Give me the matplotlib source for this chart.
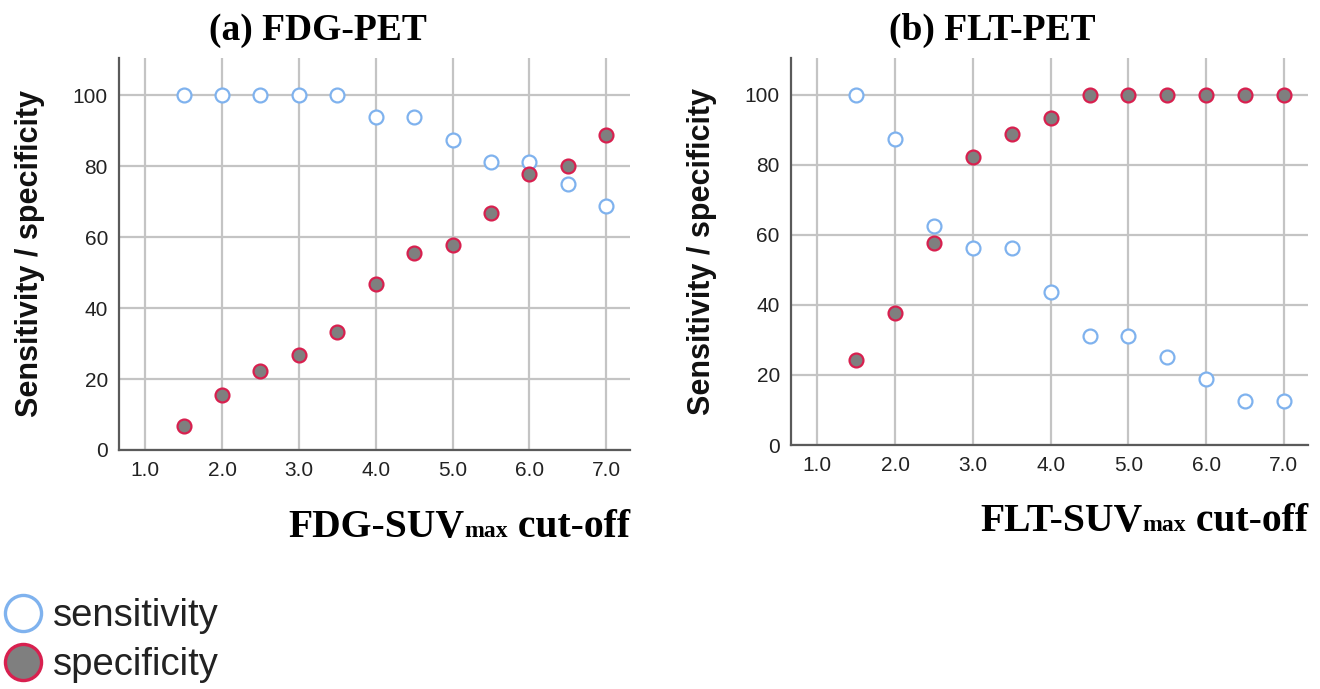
import matplotlib
matplotlib.use("Agg")
import matplotlib.pyplot as plt
from matplotlib.lines import Line2D
from matplotlib.offsetbox import TextArea, HPacker, AnchoredOffsetbox

# cut-off values (SUVmax)
cutoff = [1.5, 2.0, 2.5, 3.0, 3.5, 4.0, 4.5, 5.0, 5.5, 6.0, 6.5, 7.0]

# (a) FDG-PET
fdg_sens = [100, 100, 100, 100, 100, 93.75, 93.75, 87.5, 81.25, 81.25, 75, 68.75]
fdg_spec = [6.7, 15.6, 22.2, 26.7, 33.3, 46.7, 55.6, 57.8, 66.7, 77.8, 80, 88.9]

# (b) FLT-PET
flt_sens = [100, 87.5, 62.5, 56.25, 56.25, 43.75, 31.25, 31.25, 25, 18.75, 12.5, 12.5]
flt_spec = [24.4, 37.8, 57.8, 82.2, 88.9, 93.3, 100, 100, 100, 100, 100, 100]

xticks = [1.0, 2.0, 3.0, 4.0, 5.0, 6.0, 7.0]
yticks = [0, 20, 40, 60, 80, 100]

sens_edge = '#7fb2ee'
spec_edge = '#d8204f'
spec_fill = '#7f7f7f'
grid_col = '#c4c4c4'
spine_col = '#5a5a5a'

serif = 'Liberation Serif'
sans = 'Liberation Sans'

fig = plt.figure(figsize=(13.2, 6.89), dpi=100)
ax1 = fig.add_axes([0.0902, 0.3469, 0.3871, 0.5689])
ax2 = fig.add_axes([0.5992, 0.3541, 0.3917, 0.5617])


def draw_panel(ax, sens, spec, title, prefix, ylab_x):
    ax.plot(cutoff, sens, 'o', ms=10, mfc='white', mec=sens_edge, mew=1.6,
            linestyle='none', zorder=3)
    ax.plot(cutoff, spec, 'o', ms=10, mfc=spec_fill, mec=spec_edge, mew=1.6,
            linestyle='none', zorder=4)
    ax.set_xlim(0.66, 7.31)
    ax.set_ylim(0, 110.5)
    ax.set_xticks(xticks)
    ax.set_xticklabels(['%.1f' % t for t in xticks])
    ax.set_yticks(yticks)
    ax.grid(True, color=grid_col, lw=1.6, zorder=0)
    ax.set_axisbelow(True)
    for s in ['top', 'right']:
        ax.spines[s].set_visible(False)
    for s in ['left', 'bottom']:
        ax.spines[s].set_color(spine_col)
        ax.spines[s].set_linewidth(1.6)
    ax.tick_params(length=0, pad=8, labelsize=15, labelcolor='#222222')
    for lab in ax.get_xticklabels() + ax.get_yticklabels():
        lab.set_fontfamily(sans)
    ax.set_ylabel('Sensitivity / specificity', fontfamily=sans, fontweight='bold',
                  fontsize=22, color='#111111')
    ax.yaxis.set_label_coords(ylab_x, 0.5)
    ax.text(0.39, 1.07, title, transform=ax.transAxes, ha='center', va='center',
            fontfamily=serif, fontweight='bold', fontsize=27)

    # x label with small "max" on the baseline
    big = dict(fontfamily=serif, fontweight='bold', fontsize=28.5, color='black')
    small = dict(fontfamily=serif, fontweight='bold', fontsize=17, color='black')
    box = HPacker(children=[TextArea(prefix + '-SUV', textprops=big),
                            TextArea('max', textprops=small),
                            TextArea('\u00a0cut-off', textprops=big)],
                  align='baseline', pad=0, sep=0)
    anch = AnchoredOffsetbox(loc='upper right', child=box, pad=0, borderpad=0,
                             frameon=False, bbox_to_anchor=(1.0, -0.151),
                             bbox_transform=ax.transAxes)
    ax.add_artist(anch)


draw_panel(ax1, fdg_sens, fdg_spec, '(a) FDG-PET', 'FDG', -0.145)
draw_panel(ax2, flt_sens, flt_spec, '(b) FLT-PET', 'FLT', -0.143)

handles = [Line2D([], [], marker='o', ls='none', ms=26, mfc='white', mec=sens_edge, mew=2.4),
           Line2D([], [], marker='o', ls='none', ms=26, mfc=spec_fill, mec=spec_edge, mew=2.4)]
leg = fig.legend(handles, ['sensitivity', 'specificity'], loc='lower left',
                 bbox_to_anchor=(-0.015, -0.030), frameon=False,
                 prop={'family': sans, 'size': 27.5}, handlelength=0.85,
                 handletextpad=0.36, labelspacing=0.33, borderpad=0.2)
for t in leg.get_texts():
    t.set_color('#222222')

fig.savefig('out.png', dpi=100)
